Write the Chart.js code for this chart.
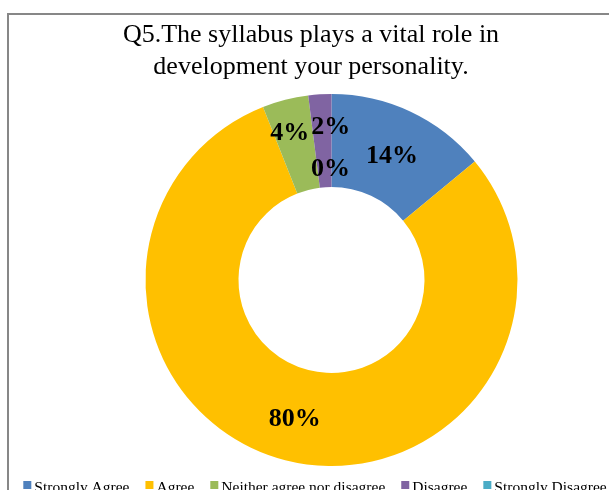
<!DOCTYPE html>
<html>
<head>
<meta charset="utf-8">
<script src="https://cdn.jsdelivr.net/npm/chart.js@4/dist/chart.umd.min.js"></script>
<style>
  html, body { margin: 0; padding: 0; background: #fff; overflow: hidden; }
  #wrap { position: relative; width: 609px; height: 490px; }
</style>
</head>
<body>
<div id="wrap"><canvas id="chart1" width="609" height="490"></canvas></div>
<script>
var titleLines = ['Q5.The syllabus plays a vital role in', 'development your personality.'];
var categories = ['Strongly Agree', 'Agree', 'Neither agree nor disagree', 'Disagree', 'Strongly Disagree'];
var percents = [14, 80, 4, 2, 0];
var colors = ['#4F81BD', '#FFC000', '#9BBB59', '#8064A2', '#4BACC6'];

var SERIF = '"Liberation Serif", "Times New Roman", serif';

// small nudges so the crowded labels near the top don't overlap
var labelNudge = [[1, 1], [-2, 2], [-7, -13], [8, -15], [-1, 27]];

// grey outline of the chart object
var framePlugin = {
  id: 'frame',
  beforeDraw: function (chart) {
    var ctx = chart.ctx;
    ctx.save();
    ctx.strokeStyle = '#878787';
    ctx.lineWidth = 2;
    ctx.beginPath();
    ctx.moveTo(8, chart.height);
    ctx.lineTo(8, 14);
    ctx.lineTo(chart.width, 14);
    ctx.stroke();
    ctx.restore();
  }
};

var titlePlugin = {
  id: 'twoLineTitle',
  afterDraw: function (chart) {
    var ctx = chart.ctx;
    ctx.save();
    ctx.fillStyle = '#000';
    ctx.font = '26px ' + SERIF;
    ctx.textAlign = 'center';
    ctx.textBaseline = 'alphabetic';
    titleLines.forEach(function (t, i) {
      ctx.fillText(t, 311, 42 + i * 32);
    });
    ctx.restore();
  }
};

var valueLabels = {
  id: 'valueLabels',
  afterDatasetsDraw: function (chart) {
    var ctx = chart.ctx;
    var arcs = chart.getDatasetMeta(0).data;
    ctx.save();
    ctx.fillStyle = '#000';
    ctx.font = 'bold 26px ' + SERIF;
    ctx.textAlign = 'center';
    ctx.textBaseline = 'alphabetic';
    arcs.forEach(function (arc, i) {
      var p = arc.tooltipPosition(true);
      var n = labelNudge[i];
      ctx.fillText(percents[i] + '%', p.x + n[0], p.y + n[1] + 8.5);
    });
    ctx.restore();
  }
};

var bottomLegend = {
  id: 'bottomLegend',
  afterDraw: function (chart) {
    var ctx = chart.ctx;
    var box = 8, gap = 3, spacing = 16;
    ctx.save();
    ctx.font = '15.5px ' + SERIF;
    ctx.textBaseline = 'alphabetic';
    ctx.textAlign = 'left';
    var widths = categories.map(function (c) { return ctx.measureText(c).width; });
    var total = widths.reduce(function (a, b) { return a + b; }, 0) +
      categories.length * (box + gap) + (categories.length - 1) * spacing;
    var x = 315 - total / 2;
    categories.forEach(function (c, i) {
      ctx.fillStyle = colors[i];
      ctx.fillRect(x, 481, box, box);
      ctx.fillStyle = '#000';
      ctx.fillText(c, x + box + gap, 491.5);
      x += box + gap + widths[i] + spacing;
    });
    ctx.restore();
  }
};

var chart = new Chart(document.getElementById('chart1'), {
  type: 'doughnut',
  data: {
    labels: categories,
    datasets: [{
      data: percents,
      backgroundColor: colors,
      borderWidth: 0
    }]
  },
  options: {
    responsive: false,
    animation: false,
    cutout: '50%',
    layout: { padding: { left: 145.5, right: 91.5, top: 94, bottom: 24 } },
    plugins: {
      legend: { display: false },
      title: { display: false },
      tooltip: { enabled: false }
    }
  },
  plugins: [framePlugin, valueLabels, titlePlugin, bottomLegend]
});
</script>
</body>
</html>
